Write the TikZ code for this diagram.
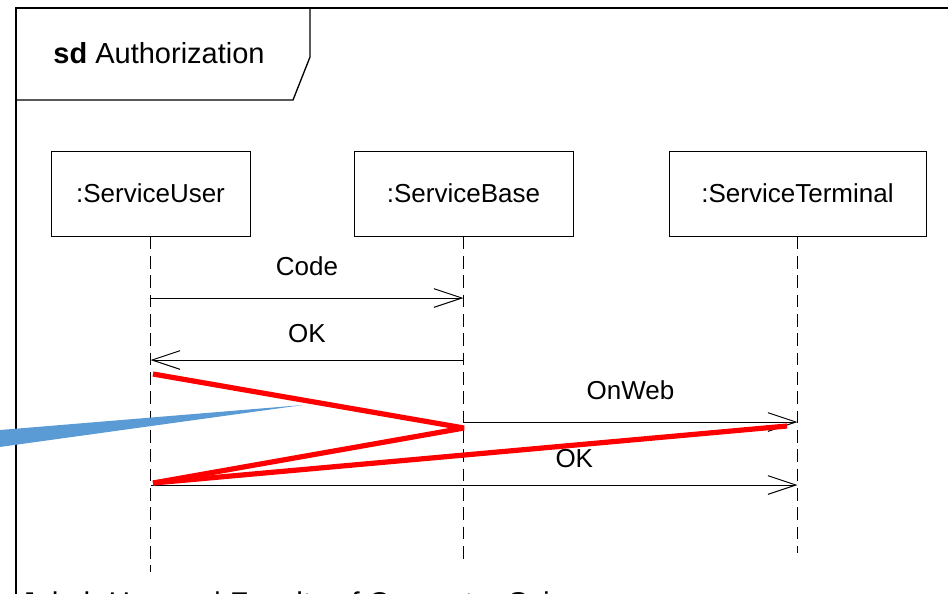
\documentclass[tikz,border=0pt]{standalone}
\usepackage{fontspec}
\setmainfont{Liberation Sans}
\usetikzlibrary{arrows.meta,calc}
\definecolor{calloutblue}{RGB}{91,155,213}
\definecolor{markred}{RGB}{255,0,0}
\begin{document}
\begin{tikzpicture}[x=0.75pt,y=-0.75pt,
  frameline/.style={line width=1.7pt,black},
  headline/.style={line width=1pt,black},
  lifebox/.style={draw,line width=0.75pt,inner sep=0pt,minimum height=63.75pt,
    font=\fontsize{19.5}{23}\selectfont},
  lifeline/.style={line width=0.75pt,dash pattern=on 9.5pt off 5pt},
  msg/.style={line width=0.75pt,-{Straight Barb[length=21pt,width=14pt,line width=0.75pt]}},
  lbl/.style={font=\fontsize{19.5}{23}\selectfont,inner sep=0pt,anchor=base},
  redmark/.style={line width=3.9pt,markred,line join=bevel}]
\useasboundingbox (0,0) rectangle (948,593);
\clip (0,0) rectangle (948,593);

% diagram frame and its sd heading
\draw[frameline] (16,610) -- (16,8) -- (960,8);
\draw[headline] (310,8) -- (310,57) -- (293,100) -- (16,100);
\node[font=\fontsize{21.75}{26}\selectfont,inner sep=0pt] (title) at (159,53)
  {\textbf{sd} Authorization};

% lifeline heads
\node[lifebox,minimum width=149.25pt] (su) at (150.5,193.5) {:ServiceUser};
\node[lifebox,minimum width=164.25pt] (sb) at (463.5,193.5) {:ServiceBase};
\node[lifebox,minimum width=192.75pt] (st) at (797.5,193.5) {:ServiceTerminal};

% lifeline ends
\coordinate (suEnd) at (su.south |- 0,572);
\coordinate (sbEnd) at (sb.south |- 0,560);
\coordinate (stEnd) at (st.south |- 0,553);
\draw[lifeline] (su.south) -- (suEnd);
\draw[lifeline] (sb.south) -- (sbEnd);
\draw[lifeline] (st.south) -- (stEnd);

% message end points
\coordinate (codeA) at (su.south |- 0,298);
\coordinate (codeB) at (sb.south |- 0,298);
\coordinate (okA)   at (sb.south |- 0,360);
\coordinate (okB)   at (su.south |- 0,360);
\coordinate (webA)  at (sb.south |- 0,422);
\coordinate (webB)  at (st.south |- 0,422);
\coordinate (okC)   at (su.south |- 0,485);
\coordinate (okD)   at (st.south |- 0,485);

% messages
\draw[msg] (codeA) -- node[lbl,yshift=17pt] (codeLbl) {Code} (codeB);
\draw[msg] (okA) -- node[lbl,yshift=13.3pt] (okLbl) {OK} (okB);
\draw[msg] (webA) -- node[lbl,yshift=17pt] (webLbl) {OnWeb} (webB);
\draw[msg] (okC) -- node[lbl,pos=0.655,yshift=13.3pt] (ok2Lbl) {OK} (okD);

% red strokes
\coordinate (r1) at (153,374);
\coordinate (r2) at (464,428);
\coordinate (r3) at (153,483);
\coordinate (r4) at (787,426);
\draw[redmark] (r1) -- (r2) -- (r3);
\draw[redmark] (r3) -- (r4);

% blue pointer wedge
\fill[calloutblue] (-40,433.3) -- (303,405) -- (-40,452.5) -- cycle;

% footer line, cut by the page edge
\node[font=\fontsize{22.5}{27}\selectfont,inner sep=0pt,anchor=base west] (footer)
  at (20,613) {Jakob Heyner | Faculty of Computer Science};
\end{tikzpicture}
\end{document}
